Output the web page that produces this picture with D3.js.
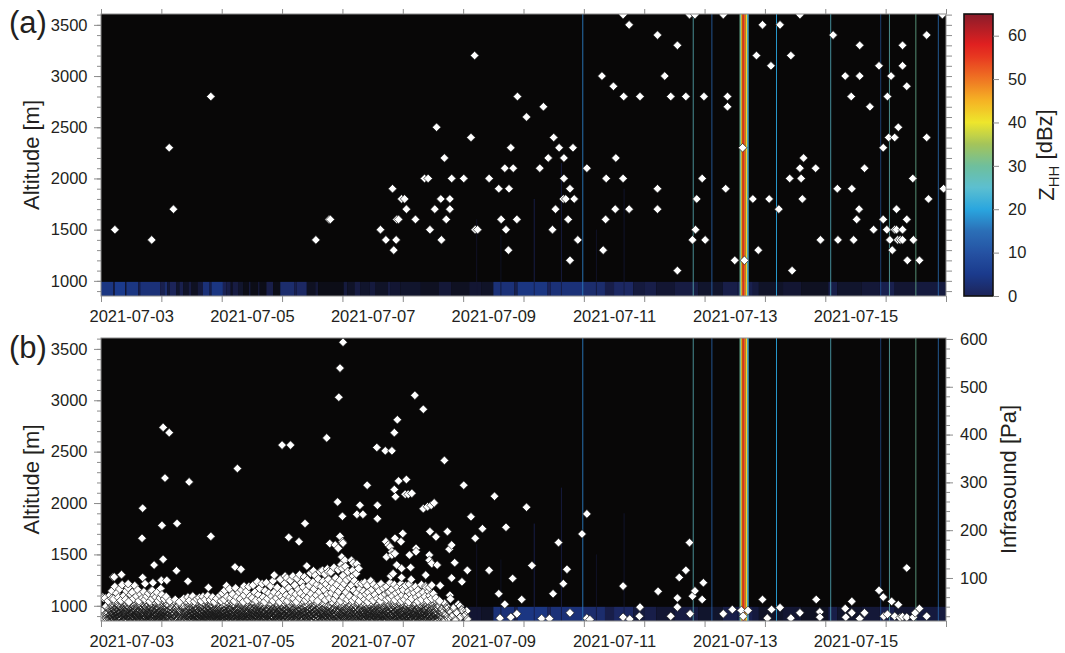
<!DOCTYPE html>
<html>
<head>
<meta charset="utf-8">
<script src="https://cdn.jsdelivr.net/npm/d3@7"></script>
<style>
  body { margin: 0; background: #ffffff; }
  svg { display: block; font-family: "Liberation Sans", Arial, Helvetica, sans-serif; }
</style>
</head>
<body>
<svg id="chart" width="1065" height="653"></svg>
<script>
// ---------------------------------------------------------------------------
// Data (times are decimal days of July 2021, UTC)
// ---------------------------------------------------------------------------
const timeRange = [3, 17];
const altRange = [852, 3606];           // m
const paRange = [10, 602];              // Pa
const dbzRange = [0, 65];               // dBZ

const dateLabels = ["2021-07-03", "2021-07-05", "2021-07-07", "2021-07-09",
                    "2021-07-11", "2021-07-13", "2021-07-15"];
const altLabels = [1000, 1500, 2000, 2500, 3000, 3500];
const paLabels = [100, 200, 300, 400, 500, 600];
const dbzLabels = [0, 10, 20, 30, 40, 50, 60];

// Low-level echo layer near the ground: [start, end, Z_HH dBZ]
const lowBandTop = 990;
const lowBand = [
  [3.00,3.20,4],[3.20,3.23,-4],[3.23,3.40,5],[3.40,3.42,-6],[3.42,3.62,4],[3.62,3.65,-3],[3.65,3.98,3],
  [3.98,4.05,-2],[4.05,4.10,2],[4.10,4.14,-6],[4.14,4.25,0],[4.25,4.30,-8],[4.30,4.36,-2],
  [4.36,4.45,-9],[4.45,4.50,-4],[4.50,4.60,-10],[4.60,4.69,-5],
  [4.69,4.80,3],[4.80,4.83,-3],[4.83,5.02,4],[5.02,5.08,-1],
  [5.08,5.15,-3],[5.15,5.18,-10],[5.18,5.28,-4],[5.28,5.36,-8],
  [5.36,5.45,-12],[5.45,5.48,-5],[5.48,5.60,-12],[5.60,5.63,-6],[5.63,5.74,-12],
  [5.74,5.85,-3],[5.85,5.97,-12],
  [5.97,6.20,2],[6.20,6.24,-2],[6.24,6.41,1],
  [6.41,6.55,-10],[6.55,6.60,-6],[6.60,7.02,-12],
  [7.02,7.08,-5],[7.08,7.20,-9],[7.20,7.30,-4],[7.30,7.45,-8],[7.45,7.55,-5],[7.55,7.75,-9],[7.75,7.80,-4],[7.80,7.96,-7],
  [7.96,8.30,-8],[8.30,8.60,-10],[8.60,8.80,-6],[8.80,9.10,-10],[9.10,9.30,-7],[9.30,9.50,-9],
  [9.50,9.85,3],[9.85,9.90,-2],[9.90,10.40,4],[10.40,10.45,0],[10.45,11.00,3],[11.00,11.35,2],[11.35,11.50,-3],[11.50,11.82,1],
  [11.82,12.00,-5],[12.00,12.20,-3],[12.20,12.50,-7],[12.50,12.90,-4],
  [12.90,13.30,-8],[13.30,13.55,-3],[13.55,13.80,-2],[13.80,13.90,-5],[13.90,14.30,-9],[14.30,14.60,-7],
  [14.60,15.05,-10],[15.05,15.20,-3],[15.20,15.60,-8],[15.60,15.90,-6],[15.90,16.15,-2],[16.15,16.50,-7],[16.50,17.00,-5]
];

// Vertical echo columns: [start, end, Z_HH dBZ, echo top (m)]
const radarColumns = [
  [9.22,9.232,-7,1600],[9.62,9.632,-8,1450],[10.17,10.185,-3,1800],[10.62,10.635,-4,2150],
  [10.975,10.99,16,3606],[11.20,11.212,-7,1500],[11.66,11.672,-6,1900],
  [12.805,12.817,26,3606],[13.115,13.128,14,3606],
  [13.58,13.605,30,3606],[13.605,13.63,45,3606],[13.63,13.655,57,3606],
  [13.655,13.68,50,3606],[13.68,13.705,42,3606],[13.705,13.73,24,3606],
  [14.185,14.2,20,3606],[15.085,15.097,25,3606],[15.915,15.925,12,3606],
  [16.055,16.067,27,3606],[16.495,16.507,30,3606],[16.865,16.878,15,3606]
];

// (a) detected heights: [day, altitude m]
const heightEvents = [
  [3.23,1500],[3.84,1400],[4.13,2300],[4.20,1700],[4.82,2800],[6.56,1400],[6.78,1600],[6.80,1600],
  [7.63,1500],[7.72,1400],[7.85,1300],[7.83,1900],[7.89,1400],[7.90,1600],[7.93,1600],[7.98,1800],[8.03,1800],
  [8.06,1700],[8.21,1600],[8.36,2000],[8.42,2000],[8.45,1500],[8.53,1700],[8.56,2500],[8.63,1800],[8.64,1400],
  [8.69,2200],[8.72,1600],[8.78,1700],[8.78,1800],[8.81,2000],[9.01,2000],[9.13,2400],[9.19,3200],[9.20,1500],
  [9.24,1500],[9.43,2000],[9.59,1900],[9.63,1600],[9.69,2100],[9.71,1500],[9.75,1300],[9.76,1900],[9.79,2300],
  [9.83,2100],[9.89,1600],[9.90,2800],[10.05,2600],[10.27,2100],[10.33,2700],[10.41,2200],[10.48,1500],
  [10.50,2400],[10.53,1700],[10.59,2300],[10.67,2200],[10.67,2000],[10.66,1800],[10.70,1800],[10.74,1600],
  [10.77,1900],[10.77,1200],[10.82,2300],[10.84,1800],[10.90,1400],[11.05,2100],[11.30,3000],[11.32,1300],
  [11.36,1600],[11.37,2000],[11.49,2900],[11.52,1700],[11.53,2200],[11.65,3600],[11.66,2800],[11.65,2000],
  [11.75,3500],[11.75,1700],[11.93,2800],[12.22,3400],[12.22,1900],[12.22,1700],[12.34,3000],[12.44,2800],
  [12.55,3300],[12.55,1100],[12.69,2800],[12.75,3600],[12.84,3600],[12.80,1400],[12.85,1500],[12.87,1800],
  [12.96,2000],[12.99,2800],[13.01,1400],[13.31,3600],[13.35,1900],[13.38,2800],[13.38,2700],[13.50,1200],
  [13.63,2300],[13.66,1200],[13.80,1800],[13.86,3200],[13.89,1300],[13.96,3500],[14.07,1800],[14.10,3100],
  [14.23,1700],[14.25,3500],[14.41,2000],[14.43,3200],[14.45,1100],[14.58,3600],[14.58,2100],[14.60,2000],
  [14.62,1800],[14.64,2200],[14.84,2100],[14.92,1400],[15.13,3400],[15.20,1900],[15.21,1400],[15.33,3000],
  [15.43,2800],[15.44,1900],[15.47,1400],[15.52,1600],[15.56,1700],[15.57,3300],[15.57,3000],[15.65,2100],
  [15.74,2700],[15.80,1500],[15.89,3100],[15.96,2300],[15.96,1600],[16.02,1500],[16.03,2800],[16.05,2400],
  [16.07,1400],[16.09,3000],[16.11,1300],[16.15,2400],[16.15,1500],[16.18,1500],[16.18,1700],[16.21,2500],
  [16.20,1400],[16.24,1400],[16.28,3300],[16.28,1500],[16.28,3100],[16.28,1400],[16.35,1600],[16.35,2900],
  [16.36,1200],[16.45,2000],[16.46,1400],[16.56,1200],[16.68,3400],[16.68,2400],[16.71,1800],[16.94,3600],
  [16.96,1900]
];

// (b) infrasound amplitudes, frequent small events (flat list: day, Pa, day, Pa, ...)
const infraFrequent = [
  3.01,19,3.02,31,3.04,58,3.05,13,3.07,24,3.08,40,3.09,16,
  3.11,28,3.12,52,3.13,15,3.14,36,3.15,22,3.15,64,3.16,11,3.17,44,3.17,29,3.18,73,3.19,18,3.19,38,
  3.20,25,3.21,56,3.21,13,3.22,34,3.23,82,3.23,20,3.24,47,3.25,15,3.25,30,3.26,68,3.27,24,3.27,41,3.28,12,3.29,59,3.29,33,
  3.30,19,3.31,77,3.31,42,3.32,27,3.33,14,3.33,53,3.34,36,3.35,22,3.35,86,3.36,48,3.37,11,3.37,31,3.38,63,3.39,24,3.39,40,
  3.40,17,3.41,55,3.41,29,3.42,73,3.43,13,3.43,44,3.44,35,3.45,21,3.45,80,3.46,50,3.47,26,3.47,15,3.48,38,3.49,65,3.49,19,
  3.50,46,3.51,28,3.51,12,3.52,70,3.53,34,3.53,20,3.54,57,3.55,41,3.55,16,3.56,84,3.57,25,3.58,49,3.58,31,3.59,14,3.59,62,
  3.60,22,3.61,39,3.61,75,3.62,17,3.63,52,3.63,28,3.64,11,3.65,44,3.65,33,3.66,66,3.67,20,3.68,48,3.68,13,3.69,36,3.69,58,
  3.70,24,3.71,71,3.71,15,3.72,42,3.73,30,3.73,55,3.74,18,3.75,38,3.75,11,3.76,62,3.77,27,3.77,47,3.78,21,3.79,34,3.79,68,
  3.80,14,3.81,51,3.81,26,3.82,40,3.83,17,3.83,73,3.84,31,3.85,57,3.85,12,3.86,45,3.87,23,3.87,36,3.88,64,3.89,19,3.89,49,
  3.90,28,3.91,60,3.91,13,3.92,41,3.93,22,3.93,70,3.94,34,3.95,16,3.95,52,3.96,26,3.97,44,3.97,11,3.98,58,3.99,31,3.99,20,
  4.00,38,4.01,15,4.01,65,4.02,27,4.03,48,4.03,19,4.04,33,4.05,56,4.05,12,4.06,24,4.07,42,4.08,17,4.08,61,4.09,30,
  4.10,21,4.11,45,4.12,14,4.13,33,4.14,52,4.15,25,4.16,11,4.17,39,4.18,19,4.19,48,
  4.20,29,4.21,15,4.23,55,4.24,36,4.25,22,4.26,12,4.27,43,4.28,27,4.29,17,
  4.30,50,4.31,32,4.32,13,4.33,24,4.35,41,4.36,18,4.37,57,4.38,29,4.39,11,
  4.40,37,4.41,21,4.42,48,4.42,14,4.43,30,4.44,60,4.45,19,4.45,40,4.46,26,4.47,12,4.47,53,4.48,34,4.49,22,
  4.50,16,4.51,45,4.51,28,4.52,62,4.53,11,4.53,37,4.54,23,4.55,51,4.55,17,4.56,31,4.57,43,4.57,13,4.58,26,4.59,56,4.59,20,
  4.60,35,4.61,14,4.61,47,4.62,25,4.63,59,4.63,18,4.64,39,4.65,11,4.65,29,4.66,52,4.67,21,4.67,42,4.68,15,4.69,33,4.69,61,
  4.70,24,4.71,12,4.71,46,4.72,30,4.73,19,4.73,55,4.74,37,4.75,14,4.75,27,4.76,49,4.77,22,4.77,63,4.78,32,4.79,16,4.79,41,
  4.80,26,4.81,54,4.81,12,4.82,36,4.83,20,4.83,45,4.84,29,4.85,15,4.85,60,4.86,38,4.87,23,4.87,11,4.88,50,4.89,31,4.89,18,
  4.90,43,4.91,25,4.91,13,4.92,57,4.93,34,4.93,19,4.94,47,4.95,28,4.95,11,4.96,39,4.97,64,4.97,21,4.98,15,4.99,52,4.99,30,
  5.00,24,5.01,68,5.01,13,5.02,40,5.03,31,5.03,18,5.04,55,5.05,26,5.05,74,5.06,12,5.07,45,5.07,35,5.08,21,5.09,61,5.09,16,
  5.10,29,5.11,49,5.11,11,5.12,38,5.13,77,5.13,22,5.14,33,5.15,15,5.15,58,5.16,27,5.17,44,5.17,19,5.18,66,5.19,12,5.19,36,
  5.20,23,5.21,52,5.21,30,5.22,14,5.23,79,5.23,41,5.24,18,5.25,34,5.25,60,5.26,25,5.27,11,5.27,47,5.28,20,5.29,70,5.29,37,
  5.30,13,5.31,28,5.31,56,5.32,43,5.33,17,5.33,75,5.34,32,5.35,22,5.35,11,5.36,50,5.37,38,5.37,64,5.38,15,5.39,27,5.39,45,
  5.40,19,5.41,72,5.41,34,5.42,12,5.43,54,5.43,25,5.44,41,5.45,16,5.45,82,5.46,30,5.47,62,5.47,21,5.48,48,5.49,13,5.49,37,
  5.50,26,5.51,58,5.51,17,5.52,85,5.53,35,5.53,11,5.54,46,5.55,23,5.55,70,5.56,31,5.57,14,5.57,53,5.58,40,5.59,20,5.59,92,
  5.60,29,5.61,65,5.61,12,5.62,44,5.63,24,5.63,78,5.64,36,5.65,16,5.65,55,5.66,27,5.67,88,5.67,42,5.68,19,5.69,33,5.69,60,
  5.70,13,5.71,50,5.71,25,5.72,73,5.73,38,5.73,18,5.74,90,5.75,30,5.75,11,5.76,57,5.77,22,5.77,45,5.78,68,5.79,34,5.79,15,
  5.80,26,5.81,83,5.81,41,5.82,12,5.83,62,5.83,31,5.84,20,5.85,52,5.85,94,5.86,36,5.87,16,5.87,70,5.88,28,5.89,47,5.89,11,
  5.90,23,5.91,58,5.91,37,5.92,80,5.93,14,5.93,43,5.94,29,5.95,66,5.95,19,5.96,50,5.97,33,5.97,97,5.98,12,5.99,25,5.99,61,
  6.00,40,6.01,17,6.01,74,6.02,31,6.03,55,6.03,22,6.04,88,6.05,13,6.05,46,6.06,35,6.07,64,6.07,26,6.08,100,6.09,18,6.09,52,
  6.10,30,6.11,79,6.11,11,6.12,42,6.13,60,6.13,24,6.14,95,6.15,36,6.15,15,6.16,70,6.17,48,6.17,21,6.18,104,6.19,33,6.19,57,
  6.20,14,6.21,85,6.21,39,6.22,27,6.23,66,6.23,12,6.24,50,6.25,99,6.25,31,6.26,19,6.27,76,6.27,44,6.28,23,6.29,58,6.29,107,
  6.30,35,6.31,16,6.31,68,6.32,90,6.33,28,6.33,47,6.34,11,6.35,81,6.35,38,6.36,22,6.37,62,6.37,102,6.38,30,6.39,54,6.39,18,
  6.40,73,6.41,42,6.41,13,6.42,96,6.43,26,6.43,59,6.44,35,6.45,84,6.45,20,6.46,49,6.47,110,6.47,15,6.48,67,6.49,32,6.49,40,
  6.50,24,6.51,91,6.51,56,6.52,12,6.53,77,6.53,37,6.54,29,6.55,105,6.55,45,6.56,17,6.57,64,6.57,33,6.58,86,6.59,21,6.59,52,
  6.60,98,6.61,39,6.61,14,6.62,71,6.63,27,6.63,113,6.64,48,6.65,19,6.65,82,6.66,60,6.67,34,6.67,11,6.68,93,6.69,43,6.69,25,
  6.70,75,6.71,108,6.71,16,6.72,54,6.73,31,6.73,87,6.74,22,6.75,66,6.75,119,6.76,40,6.77,13,6.77,97,6.78,28,6.79,58,6.79,80,
  6.80,36,6.81,112,6.81,18,6.82,69,6.83,47,6.83,90,6.84,25,6.85,12,6.85,78,6.86,122,6.87,38,6.87,56,6.88,21,6.89,100,6.89,32,
  6.90,64,6.91,15,6.91,86,6.92,44,6.93,27,6.93,117,6.94,72,6.95,35,6.95,11,6.96,95,6.97,52,6.97,23,6.98,128,6.99,41,6.99,80,
  7.00,18,7.01,105,7.01,60,7.02,30,7.03,88,7.03,13,7.04,47,7.05,124,7.05,36,7.06,70,7.07,22,7.07,96,7.08,55,7.09,15,7.09,113,
  7.10,39,7.11,79,7.11,26,7.12,62,7.13,12,7.13,101,7.14,45,7.15,33,7.15,85,7.16,19,7.17,116,7.17,53,7.18,28,7.19,74,7.19,40,
  7.20,94,7.21,16,7.21,58,7.22,35,7.23,109,7.23,24,7.24,68,7.25,46,7.25,11,7.26,87,7.27,31,7.27,120,7.28,52,7.29,20,7.29,77,
  7.30,37,7.31,14,7.31,63,7.32,88,7.33,27,7.33,44,7.34,18,7.35,72,7.35,33,7.36,12,7.37,55,7.37,91,7.38,23,7.39,40,7.39,66,
  7.40,15,7.41,30,7.41,84,7.42,50,7.43,21,7.43,70,7.44,36,7.45,12,7.45,59,7.46,26,7.47,94,7.47,43,7.48,17,7.49,33,7.49,76,
  7.50,22,7.51,53,7.51,11,7.52,86,7.53,39,7.53,28,7.54,65,7.55,16,7.55,47,7.56,31,7.57,80,7.57,19,7.58,57,7.59,36,7.59,13,
  7.60,44,7.61,25,7.61,73,7.62,14,7.63,52,7.63,34,7.64,88,7.65,20,7.65,61,7.66,41,7.67,11,7.67,29,7.68,78,7.69,48,7.69,17,
  7.70,37,7.71,66,7.71,23,7.72,13,7.73,55,7.73,82,7.74,30,7.75,45,7.75,18,7.76,70,7.77,27,7.77,12,7.78,58,7.79,38,7.79,90,
  7.80,21,7.81,49,7.81,15,7.82,76,7.83,33,7.83,62,7.84,25,7.85,11,7.85,43,7.86,86,7.87,29,7.87,54,7.88,19,7.89,68,7.89,36,
  7.90,14,7.91,47,7.91,80,7.92,26,7.93,59,7.93,35,7.94,17,7.95,72,7.95,42,7.96,12,7.97,31,7.97,88,7.98,52,7.99,22,7.99,64,
  8.00,38,8.01,16,8.01,75,8.02,28,8.03,55,8.03,45,8.04,11,8.05,84,8.05,33,8.06,20,8.07,62,8.07,41,8.08,25,8.09,71,8.09,14,
  8.10,50,8.11,30,8.11,87,8.12,18,8.13,66,8.13,39,8.14,12,8.15,57,8.15,24,8.16,78,8.17,35,8.17,15,8.18,47,8.19,28,8.19,69,
  8.20,21,8.21,82,8.21,43,8.22,13,8.23,60,8.23,32,8.24,19,8.25,74,8.25,51,8.26,26,8.27,11,8.27,38,8.28,65,8.29,45,8.29,17,
  8.30,29,8.31,86,8.31,55,8.32,22,8.33,36,8.33,14,8.34,70,8.35,47,8.35,27,8.36,12,8.37,61,8.37,33,8.38,19,8.39,80,8.39,41,
  8.40,24,8.41,53,8.41,15,8.42,37,8.43,72,8.43,28,8.44,11,8.45,46,8.45,63,8.46,20,8.47,34,8.48,57,8.48,16,8.49,41,
  8.50,26,8.51,67,8.52,13,8.52,49,8.53,31,8.54,21,8.55,58,8.56,38,8.57,14,8.58,44,8.59,25,
  8.61,52,8.62,18,8.64,35,8.66,27,8.68,12,8.69,47,
  8.71,22,8.73,40,8.75,15,8.77,31,8.79,56,
  8.81,20,8.84,37,8.87,13,8.89,28,
  8.92,45,8.95,18,8.98,33,9.03,22,9.07,14
];

// (b) additional weak events below ~35 Pa (flat list: day, Pa, ...)
const infraWeak = [
  3.15,14,3.16,24,3.17,19,3.18,31,3.19,12,
  3.20,17,3.21,27,3.22,11,3.23,33,3.24,21,3.26,14,3.27,29,3.28,18,
  3.30,26,3.31,12,3.32,20,3.33,32,3.34,15,3.36,25,3.37,18,3.38,10,3.39,29,
  3.40,23,3.41,13,3.42,34,3.44,19,3.45,11,3.46,27,3.47,21,3.48,14,3.49,31,
  3.50,17,3.51,24,3.52,12,3.53,29,3.54,19,3.56,14,3.57,33,3.58,22,3.59,10,
  3.60,27,3.61,16,3.62,31,3.63,20,3.64,13,3.66,25,3.67,11,3.68,30,3.69,18,
  3.70,12,3.71,28,3.72,20,3.73,14,3.74,33,3.76,22,3.77,10,3.78,26,3.79,16,
  3.80,30,3.81,19,3.82,11,3.83,24,3.84,15,3.86,32,3.87,18,3.88,12,3.89,27,
  3.90,20,3.91,14,3.92,33,3.93,26,3.94,11,3.96,21,3.97,17,3.98,29,3.99,13,
  4.00,25,4.01,20,4.02,12,4.04,28,4.05,17,4.06,32,4.07,14,4.09,22,
  4.11,16,4.13,26,4.15,13,4.17,21,4.19,30,
  4.21,24,4.22,12,4.24,19,4.27,31,4.28,14,
  4.30,21,4.32,27,4.34,15,4.36,11,4.38,24,
  4.40,17,4.41,28,4.43,12,4.44,22,4.46,33,4.47,19,4.48,13,4.49,26,
  4.50,21,4.51,14,4.52,30,4.53,18,4.54,11,4.55,25,4.56,16,4.57,33,4.58,20,4.59,12,
  4.60,27,4.61,17,4.62,11,4.63,31,4.64,22,4.65,15,4.66,26,4.67,12,4.68,34,4.69,19,
  4.70,14,4.71,29,4.72,20,4.73,11,4.74,25,4.75,17,4.76,32,4.77,13,4.78,23,4.79,28,
  4.80,12,4.81,21,4.82,30,4.83,16,4.84,11,4.85,26,4.86,19,4.87,33,4.88,14,4.89,24,
  4.90,18,4.91,31,4.92,12,4.93,25,4.94,16,4.95,22,4.96,13,4.97,34,4.98,20,4.99,11,
  5.00,29,5.01,17,5.02,23,5.03,12,5.04,32,5.05,19,5.06,26,5.07,14,5.08,30,5.09,21,
  5.10,13,5.11,27,5.12,18,5.13,33,5.14,11,5.15,24,5.16,16,5.17,30,5.18,21,5.19,12,
  5.20,28,5.21,15,5.22,22,5.23,11,5.24,31,5.25,18,5.26,13,5.27,26,5.28,34,5.29,17,
  5.30,23,5.31,12,5.32,30,5.33,19,5.34,14,5.35,27,5.36,21,5.37,11,5.38,33,5.39,16,
  5.40,25,5.41,13,5.42,29,5.43,18,5.44,22,5.45,12,5.46,35,5.47,15,5.48,27,5.49,20,
  5.50,11,5.51,31,5.52,17,5.53,24,5.54,13,5.55,29,5.56,19,5.57,34,5.58,12,5.59,26,
  5.60,16,5.61,22,5.62,33,5.63,11,5.64,28,5.65,20,5.66,14,5.67,31,5.68,25,5.69,12,
  5.70,27,5.71,18,5.72,13,5.73,30,5.74,21,5.75,15,5.76,34,5.77,11,5.78,24,5.79,19,
  5.80,14,5.81,29,5.82,22,5.83,12,5.84,33,5.85,17,5.86,26,5.87,11,5.88,31,5.89,20,
  5.90,15,5.91,27,5.92,12,5.93,23,5.94,32,5.95,18,5.96,13,5.97,28,5.98,21,5.99,34,
  6.00,12,6.01,25,6.02,19,6.03,30,6.04,14,6.05,22,6.06,11,6.07,33,6.08,17,6.09,27,
  6.10,20,6.11,13,6.12,29,6.13,16,6.14,24,6.15,11,6.16,32,6.17,18,6.18,26,6.19,14,
  6.20,30,6.21,21,6.22,12,6.23,27,6.24,17,6.25,34,6.26,13,6.27,23,6.28,31,6.29,15,
  6.30,25,6.31,11,6.32,20,6.33,33,6.34,16,6.35,28,6.36,13,6.37,22,6.38,30,6.39,12,
  6.40,18,6.41,26,6.42,14,6.43,32,6.44,21,6.45,11,6.46,29,6.47,24,6.48,16,6.49,34,
  6.50,13,6.51,27,6.52,20,6.53,11,6.54,31,6.55,17,6.56,25,6.57,14,6.58,33,6.59,22,
  6.60,12,6.61,28,6.62,19,6.63,30,6.64,15,6.65,24,6.66,11,6.67,32,6.68,18,6.69,26,
  6.70,14,6.71,21,6.72,33,6.73,12,6.74,27,6.75,17,6.76,30,6.77,23,6.78,11,6.79,19,
  6.80,29,6.81,13,6.82,24,6.83,16,6.84,34,6.85,20,6.86,11,6.87,27,6.88,15,6.89,31,
  6.90,22,6.91,12,6.92,28,6.93,18,6.94,32,6.95,14,6.96,25,6.97,11,6.98,20,6.99,30,
  7.00,13,7.01,26,7.02,19,7.03,33,7.04,15,7.05,23,7.06,11,7.07,29,7.08,17,7.09,31,
  7.10,21,7.11,12,7.12,27,7.13,18,7.14,34,7.15,14,7.16,24,7.17,11,7.18,30,7.19,16,
  7.20,25,7.21,13,7.22,32,7.23,19,7.24,11,7.25,28,7.26,22,7.27,15,7.28,33,7.29,12,
  7.30,20,7.31,29,7.32,14,7.33,24,7.34,11,7.35,31,7.36,18,7.37,26,7.38,13,7.39,34,
  7.40,22,7.41,12,7.42,28,7.43,16,7.44,31,7.45,20,7.46,11,7.47,25,7.48,14,7.49,30,
  7.50,17,7.51,33,7.52,12,7.53,23,7.54,19,7.55,29,7.56,11,7.57,26,7.58,15,7.59,32,
  7.60,13,7.61,21,7.62,30,7.63,16,7.64,25,7.65,11,7.66,34,7.67,19,7.68,23,7.69,12,
  7.70,28,7.71,15,7.72,31,7.73,20,7.74,12,7.75,26,7.76,17,7.77,33,7.78,13,7.79,22,
  7.80,30,7.81,11,7.82,24,7.83,18,7.84,32,7.85,14,7.86,27,7.87,21,7.88,12,7.89,29,
  7.90,19,7.91,13,7.92,34,7.93,22,7.94,11,7.95,28,7.96,16,7.97,25,7.98,14,7.99,31,
  8.00,12,8.01,23,8.02,18,8.03,33,8.04,15,8.05,27,8.06,11,8.07,21,8.08,30,8.09,17,
  8.10,13,8.11,25,8.12,32,8.13,19,8.14,14,8.15,28,8.16,11,8.17,22,8.18,31,8.19,16,
  8.20,26,8.21,12,8.22,20,8.23,34,8.24,14,8.25,24,8.26,17,8.27,30,8.28,11,8.29,23,
  8.30,15,8.31,28,8.32,12,8.33,21,8.34,31,8.35,16,8.36,26,8.37,11,8.38,33,8.39,19,
  8.40,13,8.42,25,8.43,18,8.44,30,8.46,14,8.47,22,8.49,11,
  8.50,19,8.52,27,8.53,14,8.55,23,8.57,11,8.59,17
];

// (b) infrasound amplitudes, isolated events: [day, Pa]
const infraIsolated = [
  [3.03,60],[3.07,58],[3.18,57],[3.20,102],[3.22,102],[3.34,107],[3.45,88],[3.69,101],[3.73,88],[3.86,90],
  [3.85,74],[3.99,78],[4.00,95],[4.09,95],[3.88,127],[4.03,139],[4.25,115],[4.44,93],[3.68,183],[3.69,246],
  [4.01,210],[4.26,214],[4.06,309],[4.46,301],[4.03,415],[4.13,404],[4.78,80],[4.82,187],[5.08,84],[5.22,123],
  [5.26,329],[5.32,118],[5.37,83],[5.87,106],[6.00,378],[6.05,104],[6.11,185],[6.14,378],[6.28,176],[6.38,214],
  [6.41,125],[6.52,115],[6.67,116],[6.74,393],[6.77,113],[6.79,172],[6.88,169],[6.92,259],[6.93,162],[6.94,478],
  [6.96,539],[6.96,187],[6.99,144],[7.00,229],[7.00,176],[7.00,120],[7.01,593],[7.01,173],[7.04,137],[7.15,137],
  [7.18,104],[7.18,131],[7.24,233],[7.24,129],[7.29,252],[7.34,233],[7.41,294],[7.57,373],[7.58,252],[7.58,224],
  [7.58,82],[7.71,366],[7.72,176],[7.73,144],[7.76,169],[7.78,71],[7.79,165],[7.80,104],[7.82,366],[7.82,155],
  [7.82,148],[7.84,109],[7.86,404],[7.86,285],[7.87,183],[7.87,151],[7.88,270],[7.90,127],[7.91,431],[7.93,303],
  [7.97,176],[7.98,101],[7.98,120],[8.00,193],[8.00,80],[8.04,275],[8.06,306],[8.09,275],[8.11,148],[8.13,122],
  [8.14,97],[8.15,277],[8.20,482],[8.22,162],[8.22,155],[8.34,453],[8.34,245],[8.38,106],[8.38,83],[8.41,249],
  [8.44,148],[8.44,137],[8.44,80],[8.45,197],[8.47,252],[8.48,130],[8.48,85],[8.52,257],[8.55,186],[8.57,127],
  [8.62,84],[8.69,346],[8.72,36],[8.74,197],[8.77,160],[8.78,64],[8.81,169],[8.81,100],[8.86,132],[8.95,41],
  [8.98,92],[9.01,294],[9.06,31],[9.07,116],[9.13,228],[9.20,183],[9.32,203],[9.43,116],[9.52,271],[9.59,67],
  [9.61,16],[9.69,45],[9.71,206],[9.79,18],[9.82,99],[9.89,25],[9.97,55],[10.05,248],[10.14,126],[10.30,15],
  [10.43,15],[10.49,67],[10.58,174],[10.66,88],[10.72,118],[10.77,27],[10.97,192],[11.05,234],[11.05,16],[11.10,13],
  [11.65,83],[11.65,18],[11.76,14],[11.92,20],[11.93,39],[12.23,72],[12.44,20],[12.55,58],[12.55,39],[12.58,101],
  [12.69,116],[12.75,174],[12.76,25],[12.80,62],[12.84,73],[12.96,55],[12.98,90],[13.31,25],[13.46,34],[13.61,32],
  [13.64,20],[13.72,32],[13.96,55],[14.04,16],[14.11,34],[14.25,38],[14.43,16],[14.58,27],[14.85,55],[14.91,29],
  [14.91,18],[15.33,36],[15.34,18],[15.44,51],[15.44,27],[15.57,15],[15.65,27],[15.89,74],[15.96,60],[15.97,20],
  [16.03,24],[16.10,51],[16.15,20],[16.21,44],[16.24,17],[16.28,19],[16.35,121],[16.35,18],[16.46,18],[16.49,27],
  [16.56,36],[16.68,20]
];

// ---------------------------------------------------------------------------
// Layout
// ---------------------------------------------------------------------------
const svg = d3.select("#chart");
const plotL = 101, plotR = 946;
const panelA = { top: 14, bottom: 296 };
const panelB = { top: 338, bottom: 621 };
const bar = { x0: 964, x1: 993 };
const inkColor = "#231f20";
const axisGray = "#8c8c8c";
const tickFont = 16.5;
// crowded weak events (before the swarm ends) are drawn underneath as a mesh
const meshBelowPa = 50;
const meshBeforeDay = 9.1;

const JULY0 = Date.UTC(2021, 6, 1);
const toDate = d => new Date(JULY0 + (d - 1) * 864e5);
const fmtDay = d3.utcFormat("%Y-%m-%d");
const parseDay = d3.utcParse("%Y-%m-%d");
const fmtInt = d3.format("d");

const x = d3.scaleUtc().domain(timeRange.map(toDate)).range([plotL, plotR]);
const yA = d3.scaleLinear().domain(altRange).range([panelA.bottom, panelA.top]);
const yB = d3.scaleLinear().domain(altRange).range([panelB.bottom, panelB.top]);
const pB = d3.scaleLinear().domain(paRange).range([panelB.bottom, panelB.top]);
const yBar = d3.scaleLinear().domain(dbzRange).range([panelA.bottom, panelA.top]);

// Reflectivity colour map (values below 0 dBZ fade into the black background)
const zColor = d3.scaleLinear()
  .domain([-15, 0, 5, 10, 15, 20, 25, 30, 35, 40, 45, 50, 55, 58, 65])
  .range(["#080707", "#1c2459", "#1b3a8c", "#2552a3", "#2b6fb7", "#2aa6df", "#5cbfd0",
          "#6fbf9c", "#a4c45a", "#eee62c", "#f5b324", "#ef7523", "#e83a20", "#e02020", "#8a1c2a"])
  .clamp(true);

const dayTicks = d3.utcDay.range(toDate(timeRange[0]), toDate(timeRange[1] + 0.01));
const labelNoons = dateLabels.map(s => new Date(+parseDay(s) + 12 * 3600e3));
const minorAlt = d3.range(900, 3601, 100);
const minorPa = d3.range(20, 601, 20);

const diamond = "M0,-4.3L4.3,0L0,4.3L-4.3,0Z";
const markerStroke = "#1a1a1a";

function styleAxis(g) {
  g.select(".domain").remove();
  g.selectAll(".tick line").attr("stroke", axisGray).attr("stroke-width", 1);
  g.selectAll(".tick text").attr("fill", inkColor).attr("font-size", tickFont)
    .attr("font-family", "'Liberation Sans', Arial, Helvetica, sans-serif");
}

function drawRadar(g, y, top, bottom, clipId) {
  svg.append("clipPath").attr("id", clipId)
    .append("rect").attr("x", plotL).attr("y", top).attr("width", plotR - plotL).attr("height", bottom - top);
  const layer = g.append("g").attr("clip-path", `url(#${clipId})`);
  layer.append("rect").attr("x", plotL).attr("y", top)
    .attr("width", plotR - plotL).attr("height", bottom - top).attr("fill", "#080707");
  layer.append("g").selectAll("rect").data(lowBand).join("rect")
    .attr("x", d => x(toDate(d[0])))
    .attr("width", d => x(toDate(d[1])) - x(toDate(d[0])))
    .attr("y", y(lowBandTop))
    .attr("height", y(altRange[0]) - y(lowBandTop))
    .attr("fill", d => zColor(d[2]));
  layer.append("g").selectAll("rect").data(radarColumns).join("rect")
    .attr("x", d => x(toDate(d[0])))
    .attr("width", d => x(toDate(d[1])) - x(toDate(d[0])))
    .attr("y", d => y(d[3]))
    .attr("height", d => y(altRange[0]) - y(d[3]))
    .attr("fill", d => zColor(d[2]));
  return layer;
}

function drawTimeAxis(g, bottom) {
  g.append("g").attr("transform", `translate(0,${bottom})`)
    .call(d3.axisBottom(x).tickValues(dayTicks).tickSize(6).tickFormat(""))
    .call(styleAxis);
  g.append("g").attr("transform", `translate(0,${bottom})`)
    .call(d3.axisBottom(x).tickValues(labelNoons).tickSize(0).tickPadding(14.5)
      .tickFormat(d => fmtDay(new Date(+d - 12 * 3600e3))))
    .call(styleAxis);
}

function drawAltAxis(g, y) {
  g.append("g").attr("transform", `translate(${plotL},0)`)
    .call(d3.axisLeft(y).tickValues(minorAlt).tickSize(4).tickFormat(""))
    .call(styleAxis);
  g.append("g").attr("transform", `translate(${plotL},0)`)
    .call(d3.axisLeft(y).tickValues(altLabels).tickSize(7).tickPadding(6.5).tickFormat(fmtInt))
    .call(styleAxis);
}

function drawFrame(g, top, bottom) {
  g.append("rect").attr("x", plotL).attr("y", top)
    .attr("width", plotR - plotL).attr("height", bottom - top)
    .attr("fill", "none").attr("stroke", axisGray).attr("stroke-width", 1);
}

function yTitle(g, text, tx, ty) {
  g.append("text").attr("transform", `translate(${tx},${ty}) rotate(-90)`)
    .attr("text-anchor", "middle").attr("font-size", 22).attr("fill", inkColor).text(text);
}

// White diamonds, each with its own outline, in data order
function drawMarkers(layer, data, y) {
  layer.append("g").selectAll("path").data(data).join("path")
    .attr("d", diamond)
    .attr("transform", d => `translate(${x(toDate(d[0]))},${y(d[1])})`)
    .attr("fill", "#ffffff").attr("stroke", markerStroke).attr("stroke-width", 0.7);
}

// Crowded diamonds: all fills first, then every outline on top
function drawMarkerMesh(layer, data, y) {
  const g = layer.append("g");
  const place = d => `translate(${x(toDate(d[0]))},${y(d[1])})`;
  g.append("g").selectAll("path").data(data).join("path")
    .attr("d", diamond).attr("transform", place).attr("fill", "#ffffff");
  g.append("g").selectAll("path").data(data).join("path")
    .attr("d", diamond).attr("transform", place).attr("fill", "none")
    .attr("stroke", markerStroke).attr("stroke-width", 0.7);
}

const pairs = flat => d3.range(0, flat.length, 2).map(i => [flat[i], flat[i + 1]]);

// ---------------------------------------------------------------------------
// Panel (a)
// ---------------------------------------------------------------------------
const gA = svg.append("g");
const layerA = drawRadar(gA, yA, panelA.top, panelA.bottom, "clipA");
drawFrame(gA, panelA.top, panelA.bottom);
drawTimeAxis(gA, panelA.bottom);
gA.append("g").attr("transform", `translate(0,${panelA.top})`)
  .call(d3.axisTop(x).tickValues(dayTicks).tickSize(5).tickFormat(""))
  .call(styleAxis);
drawAltAxis(gA, yA);
gA.append("g").attr("transform", `translate(${plotR},0)`)
  .call(d3.axisRight(yA).tickValues(minorAlt).tickSize(6).tickFormat(""))
  .call(styleAxis);

drawMarkers(layerA, heightEvents, yA);

yTitle(gA, "Altitude [m]", 39, (panelA.top + panelA.bottom) / 2);
gA.append("text").attr("x", 9).attr("y", 33).attr("font-size", 31).attr("fill", inkColor).text("(a)");

// Colour bar
const defs = svg.append("defs");
const grad = defs.append("linearGradient").attr("id", "zGrad")
  .attr("x1", 0).attr("y1", 1).attr("x2", 0).attr("y2", 0);
d3.range(dbzRange[0], dbzRange[1] + 0.01, 1).forEach(v => {
  grad.append("stop").attr("offset", (v - dbzRange[0]) / (dbzRange[1] - dbzRange[0]))
    .attr("stop-color", zColor(v));
});
svg.append("rect").attr("x", bar.x0).attr("y", panelA.top)
  .attr("width", bar.x1 - bar.x0).attr("height", panelA.bottom - panelA.top)
  .attr("fill", "url(#zGrad)").attr("stroke", "#111").attr("stroke-width", 1.6);
svg.append("g").attr("transform", `translate(${bar.x1},0)`)
  .call(d3.axisRight(yBar).tickValues(dbzLabels).tickSize(6).tickPadding(9))
  .call(styleAxis);
const zTitle = svg.append("text")
  .attr("transform", `translate(1054,${(panelA.top + panelA.bottom) / 2}) rotate(-90)`)
  .attr("text-anchor", "middle").attr("font-size", 22).attr("fill", inkColor);
zTitle.append("tspan").text("Z");
zTitle.append("tspan").attr("font-size", 15).attr("dy", "0.32em").text("HH");
zTitle.append("tspan").attr("dy", "-0.32em").text(" [dBz]");

// ---------------------------------------------------------------------------
// Panel (b)
// ---------------------------------------------------------------------------
const gB = svg.append("g");
const layerB = drawRadar(gB, yB, panelB.top, panelB.bottom, "clipB");
drawFrame(gB, panelB.top, panelB.bottom);
drawTimeAxis(gB, panelB.bottom);
drawAltAxis(gB, yB);
gB.append("g").attr("transform", `translate(${plotR},0)`)
  .call(d3.axisRight(pB).tickValues(minorPa).tickSize(4).tickFormat(""))
  .call(styleAxis);
gB.append("g").attr("transform", `translate(${plotR},0)`)
  .call(d3.axisRight(pB).tickValues(paLabels).tickSize(7).tickPadding(7))
  .call(styleAxis);

const infraAll = pairs(infraFrequent).concat(pairs(infraWeak), infraIsolated)
  .sort((a, b) => a[0] - b[0]);
const inMesh = d => d[1] < meshBelowPa && d[0] < meshBeforeDay;
drawMarkerMesh(layerB, infraAll.filter(inMesh), pB);
drawMarkers(layerB, infraAll.filter(d => !inMesh(d)), pB);

yTitle(gB, "Altitude [m]", 39, (panelB.top + panelB.bottom) / 2);
yTitle(gB, "Infrasound [Pa]", 1016, (panelB.top + panelB.bottom) / 2);
gB.append("text").attr("x", 9).attr("y", 358).attr("font-size", 31).attr("fill", inkColor).text("(b)");
</script>
</body>
</html>
